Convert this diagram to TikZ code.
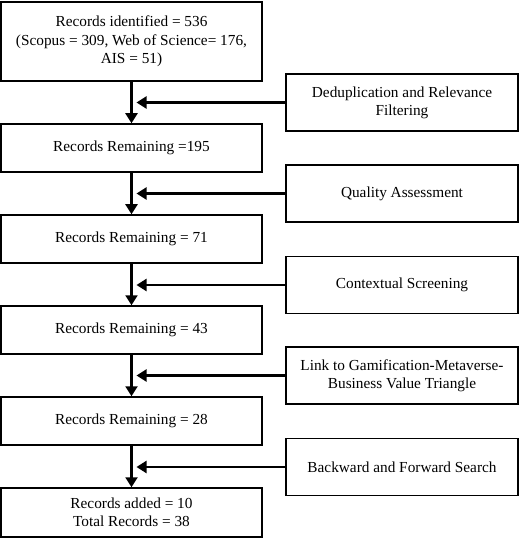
\documentclass[tikz,border=0pt]{standalone}
\usepackage{fontspec}
\setmainfont{Liberation Serif}
\usetikzlibrary{arrows.meta}
\begin{document}
\begin{tikzpicture}[x=1bp, y=-1bp,
        rec/.style={draw, line width=1.5bp, minimum width=261bp, align=center, inner sep=0pt,
          font=\fontsize{15.3bp}{18.3bp}\selectfont},
        stage/.style={draw, line width=1.5bp, minimum width=232bp, minimum height=57bp, align=center,
          inner sep=0pt, font=\fontsize{15.3bp}{18.3bp}\selectfont},
        flow/.style={line width=2.2bp, -{Triangle[length=10bp,width=12bp]}}]
        \useasboundingbox (0,0) rectangle (520,539);

        \node[rec, minimum height=79bp] (b1) at (131.5,41.5) {Records identified = 536\\(Scopus = 309, Web of Science= 176,\\AIS = 51)};
        \node[rec, minimum height=48bp] (b2) at (131.5,148) {Records Remaining =195};
        \node[rec, minimum height=48bp] (b3) at (131.5,239) {Records Remaining = 71};
        \node[rec, minimum height=48bp] (b4) at (131.5,330) {Records Remaining = 43};
        \node[rec, minimum height=48bp] (b5) at (131.5,421) {Records Remaining = 28};
        \node[rec, minimum height=49bp] (b6) at (131.5,512.5) {Records added = 10\\Total Records = 38};

        \node[stage] (s1) at (402,102.5) {Deduplication and Relevance\\Filtering};
        \node[stage] (s2) at (402,193.5) {Quality Assessment};
        \node[stage] (s3) at (402,285) {Contextual Screening};
        \node[stage] (s4) at (402,375.5) {Link to Gamification-Metaverse-\\Business Value Triangle};
        \node[stage] (s5) at (402,467) {Backward and Forward Search};

        \draw[flow] (b1) -- (b2);
        \draw[flow] (b2) -- (b3);
        \draw[flow] (b3) -- (b4);
        \draw[flow] (b4) -- (b5);
        \draw[flow] (b5) -- (b6);

        \draw[flow] (s1) -- ([xshift=5bp]b1.south |- s1.west);
        \draw[flow] (s2) -- ([xshift=5bp]b2.south |- s2.west);
        \draw[flow] (s3) -- ([xshift=5bp]b3.south |- s3.west);
        \draw[flow] (s4) -- ([xshift=5bp]b4.south |- s4.west);
        \draw[flow] (s5) -- ([xshift=5bp]b5.south |- s5.west);

      \end{tikzpicture}
\end{document}
